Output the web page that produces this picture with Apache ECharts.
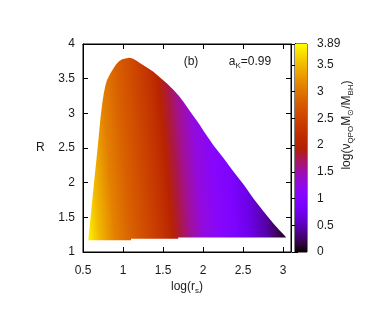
<!DOCTYPE html>
<html><head><meta charset="utf-8">
<script src="https://cdn.jsdelivr.net/npm/echarts@6/dist/echarts.min.js"></script>
<style>html,body{margin:0;padding:0;background:#fff}#c{width:374px;height:311px}</style>
</head><body><div id="c"></div>
<script>
// Upper boundary of the allowed region (log r_s, R)
var upperX = [0.566,0.595,0.637,0.68,0.72,0.74,0.76,0.78,0.80,0.84,0.87,0.91,0.95,0.99,1.03,1.08,1.12,1.17,1.22,1.30,1.38,1.47,1.55,1.63,1.70,1.76,1.82,1.88,1.95,2.01,2.13,2.26,2.38,2.51,2.63,2.76,2.88,2.95,3.01,3.04];
var upperR = [1.17,1.51,1.99,2.47,2.95,3.14,3.29,3.40,3.48,3.57,3.63,3.70,3.75,3.78,3.79,3.80,3.79,3.76,3.72,3.66,3.60,3.51,3.43,3.34,3.25,3.16,3.06,2.96,2.85,2.74,2.54,2.35,2.16,1.97,1.77,1.58,1.41,1.32,1.25,1.21];
// Lower boundary (right to left)
var lowerX = [3.04,1.69,1.69,1.10,1.10,0.566];
var lowerR = [1.21,1.21,1.19,1.19,1.17,1.17];
// log(nu_QPO M_sun / M_BH) along the bottom of the region
var colorX = [0.56,0.70,0.90,1.10,1.30,1.50,1.62,1.72,1.85,2.00,2.20,2.40,2.60,2.80,2.95,3.04];
var colorV = [3.85,3.50,3.10,2.82,2.57,2.27,2.02,1.80,1.55,1.30,1.10,0.95,0.70,0.45,0.20,0.05];
var xTicks = [0.5,1,1.5,2,2.5,3];
var yTicks = [1,1.5,2,2.5,3,3.5,4];
var cbMin = 0, cbMax = 3.89;

function pal(t){
  t = Math.max(0, Math.min(1, t));
  var r = Math.sqrt(t), g = t*t*t, b = Math.max(0, Math.sin(2*Math.PI*t));
  return 'rgb(' + Math.round(r*255) + ',' + Math.round(g*255) + ',' + Math.round(b*255) + ')';
}
var chart = echarts.init(document.getElementById('c'), null, {renderer:'canvas'});
var txt = '#1a1a1a';
var FONT = 'Liberation Sans';
var axisCommon = {
  type:'value', axisLine:{show:true, lineStyle:{color:'#000', width:1}},
  axisTick:{show:true, inside:true, length:5, lineStyle:{color:'#000'}},
  splitLine:{show:false}
};
function fmt(list){ return function(v){ for (var i=0;i<list.length;i++) if (Math.abs(list[i]-v)<1e-6) return String(list[i]); return ''; }; }

var option = {
  animation:false,
  grid:[
    {left:83, right:83, top:44, bottom:59, show:true, borderColor:'#000', borderWidth:1, backgroundColor:'transparent'},
    {left:295, width:12, top:44, bottom:59, show:true, borderColor:'#000', borderWidth:1}
  ],
  xAxis:[
    Object.assign({}, axisCommon, {gridIndex:0, position:'bottom', min:0.5, max:3.1, interval:0.5,
      axisLabel:{formatter:fmt(xTicks), color:txt, fontSize:12, fontFamily:FONT, margin:13}}),
    Object.assign({}, axisCommon, {gridIndex:0, position:'top', min:0.5, max:3.1, interval:0.5, axisLabel:{show:false}}),
    {type:'value', gridIndex:1, min:0, max:1, show:false}
  ],
  yAxis:[
    Object.assign({}, axisCommon, {gridIndex:0, position:'left', min:1, max:4, interval:0.5,
      axisLabel:{formatter:fmt(yTicks), color:txt, fontSize:12, fontFamily:FONT, margin:8}}),
    Object.assign({}, axisCommon, {gridIndex:0, position:'right', min:1, max:4, interval:0.5, axisLabel:{show:false}}),
    Object.assign({}, axisCommon, {gridIndex:1, position:'right', min:cbMin, max:cbMax, interval:0.5,
      axisTick:{show:true, inside:true, length:3, lineStyle:{color:'#000'}},
      axisLabel:{color:txt, fontSize:12, fontFamily:FONT, margin:10, showMaxLabel:true,
        formatter:function(v){ return Math.abs(v-cbMax)<1e-6 ? '3.89' : String(v); }}}),
    Object.assign({}, axisCommon, {gridIndex:1, position:'left', min:cbMin, max:cbMax, interval:0.5,
      axisTick:{show:true, inside:true, length:3, lineStyle:{color:'#000'}}, axisLabel:{show:false}})
  ],
  series:[
    {
      type:'custom', xAxisIndex:0, yAxisIndex:0, data:[[upperX[0], upperR[0]]], silent:true, z:1,
      renderItem:function(params, api){
        var pts = [];
        for (var i=0;i<upperX.length;i++) pts.push(api.coord([upperX[i], upperR[i]]));
        for (var j=0;j<lowerX.length;j++) pts.push(api.coord([lowerX[j], lowerR[j]]));
        var p0 = api.coord([0.5, 1.2]);
        var dx = 1, dy = -0.09, n = Math.sqrt(dx*dx+dy*dy); dx/=n; dy/=n;
        var pe = api.coord([3.1, 1.2]);
        var L = (pe[0]-p0[0])*dx + (pe[1]-p0[1])*dy;
        var stops = [];
        for (var k=0;k<colorX.length;k++){
          var c = api.coord([colorX[k], 1.2]);
          var off = ((c[0]-p0[0])*dx + (c[1]-p0[1])*dy)/L;
          stops.push({offset:Math.max(0,Math.min(1,off)), color:pal((colorV[k]-cbMin)/(cbMax-cbMin))});
        }
        return {type:'polygon', shape:{points:pts},
          style:{fill:{type:'linear', x:p0[0], y:p0[1], x2:p0[0]+L*dx, y2:p0[1]+L*dy, global:true, colorStops:stops}, stroke:null}};
      }
    },
    {
      type:'custom', xAxisIndex:2, yAxisIndex:2, data:[[0, cbMin]], silent:true, z:1,
      renderItem:function(params, api){
        var a = api.coord([0, cbMin]), b = api.coord([1, cbMax]);
        var stops = [];
        for (var i=0;i<=40;i++) stops.push({offset:i/40, color:pal(i/40)});
        return {type:'rect', shape:{x:a[0], y:b[1], width:b[0]-a[0], height:a[1]-b[1]},
          style:{fill:{type:'linear', x:0, y:a[1], x2:0, y2:b[1], global:true, colorStops:stops}}};
      }
    }
  ],
  graphic:[
    {type:'text', left:36, top:142, style:{text:'R', fill:txt, font:'12px "Liberation Sans"'}},
    {type:'text', x:187, y:287, style:{text:'log(r{s|s})', fill:txt, font:'12px "Liberation Sans"', align:'center', verticalAlign:'middle',
      rich:{s:{fontSize:8, fontFamily:FONT, padding:[7,0,0,0], fill:txt}}}},
    {type:'text', x:347, y:125, rotation:Math.PI/2, style:{text:'log(ν{s|QPO}M{s|⊙}/M{s|BH})', fill:txt, font:'12px "Liberation Sans"', align:'center', verticalAlign:'middle',
      rich:{s:{fontSize:8, fontFamily:FONT, padding:[7,0,0,0], fill:txt}}}},
    {type:'text', x:191, y:62, style:{text:'(b)', fill:txt, font:'12px "Liberation Sans"', align:'center', verticalAlign:'middle'}},
    {type:'text', x:250, y:62, style:{text:'a{s|K}=0.99', fill:txt, font:'12px "Liberation Sans"', align:'center', verticalAlign:'middle',
      rich:{s:{fontSize:8, fontFamily:FONT, padding:[7,0,0,0], fill:txt}}}}
  ]
};
chart.setOption(option);
</script></body></html>
